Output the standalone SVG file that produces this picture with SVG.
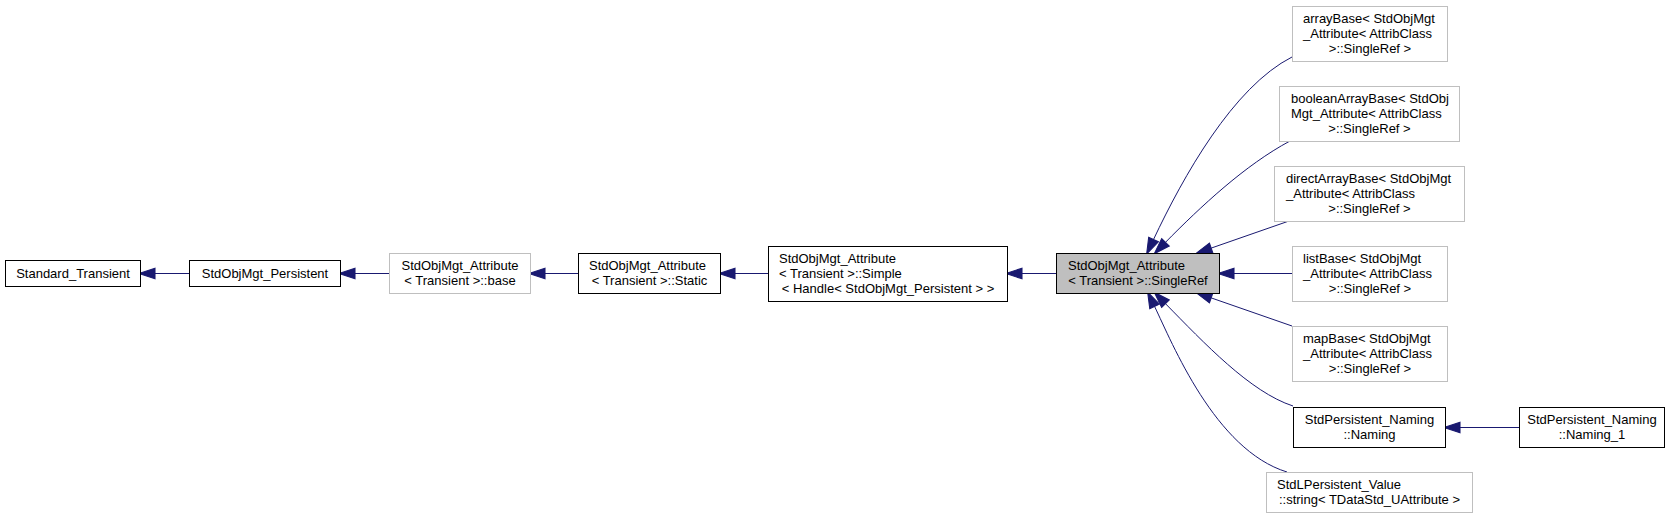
<svg xmlns="http://www.w3.org/2000/svg" width="1677" height="517" viewBox="0 0 1677 517">
<style>
.n rect{fill:#ffffff;stroke:#000000;stroke-width:1}
.g rect{fill:#ffffff;stroke:#bfbfbf;stroke-width:1}
.cur rect{fill:#bfbfbf;stroke:#000000;stroke-width:1}
text{font-family:"Liberation Sans",Arial,Helvetica,sans-serif;font-size:13px;fill:#000000}
.m{text-anchor:middle}
.s{text-anchor:start}
#edges path{fill:none;stroke:#191970;stroke-width:1;marker-end:url(#arr)}
</style>
<defs>
<marker id="arr" markerUnits="userSpaceOnUse" markerWidth="16" markerHeight="11" refX="0" refY="5" orient="auto" viewBox="0 0 15 10" overflow="visible">
<path d="M0,0 L15,5 L0,10 z" fill="#191970" stroke="#191970" stroke-width="1"/>
</marker>
</defs>
<rect width="1677" height="517" fill="#ffffff"/>
<g id="edges">
<path d="M189,273.5 L155,273.5"/>
<path d="M389,273.5 L355,273.5"/>
<path d="M578,273.5 L545,273.5"/>
<path d="M768,273.5 L735,273.5"/>
<path d="M1056,273.5 L1022,273.5"/>
<path d="M1292,273.5 L1234,273.5"/>
<path d="M1519,427.5 L1460,427.5"/>
<path d="M1292,57 C1233,87 1183,177 1153.5,239.5"/>
<path d="M1290,141 C1245,165 1200.5,206.8 1165.5,242.3"/>
<path d="M1289,221 L1211.2,248.1"/>
<path d="M1292,326 L1211.2,297.9"/>
<path d="M1293,406 C1250,392 1204,342.8 1165.5,303.7"/>
<path d="M1287,472 C1215,450 1172,342.5 1154.6,306.5"/>
</g>
<g id="node_standard_transient" class="n">
<rect x="5.5" y="260.5" width="135" height="26"/>
<text class="m" x="73" y="278">Standard_Transient</text>
</g>
<g id="node_stdobjmgt_persistent" class="n">
<rect x="189.5" y="260.5" width="151" height="26"/>
<text class="m" x="265" y="278">StdObjMgt_Persistent</text>
</g>
<g id="node_attr_base" class="g">
<rect x="389.5" y="253.5" width="141" height="40"/>
<text class="m" x="460" y="270">StdObjMgt_Attribute</text>
<text class="m" x="460" y="285">&lt; Transient &gt;::base</text>
</g>
<g id="node_attr_static" class="n">
<rect x="578.5" y="253.5" width="142" height="40"/>
<text class="s" x="589" y="270">StdObjMgt_Attribute</text>
<text class="m" x="649.5" y="285">&lt; Transient &gt;::Static</text>
</g>
<g id="node_attr_simple" class="n">
<rect x="768.5" y="246.5" width="239" height="55"/>
<text class="s" x="779" y="263">StdObjMgt_Attribute</text>
<text class="s" x="779" y="278">&lt; Transient &gt;::Simple</text>
<text class="m" x="888" y="293">&lt; Handle&lt; StdObjMgt_Persistent &gt; &gt;</text>
</g>
<g id="node_attr_singleref" class="cur">
<rect x="1056.5" y="253.5" width="163" height="40"/>
<text class="s" x="1068" y="270">StdObjMgt_Attribute</text>
<text class="m" x="1138" y="285">&lt; Transient &gt;::SingleRef</text>
</g>
<g id="node_arraybase" class="g">
<rect x="1292.5" y="6.5" width="155" height="55"/>
<text class="s" x="1303" y="23">arrayBase&lt; StdObjMgt</text>
<text class="s" x="1303" y="38">_Attribute&lt; AttribClass</text>
<text class="m" x="1370" y="53">&gt;::SingleRef &gt;</text>
</g>
<g id="node_booleanarraybase" class="g">
<rect x="1279.5" y="86.5" width="180" height="55"/>
<text class="s" x="1291" y="103">booleanArrayBase&lt; StdObj</text>
<text class="s" x="1291" y="118">Mgt_Attribute&lt; AttribClass</text>
<text class="m" x="1369.5" y="133">&gt;::SingleRef &gt;</text>
</g>
<g id="node_directarraybase" class="g">
<rect x="1274.5" y="166.5" width="190" height="55"/>
<text class="s" x="1286" y="183">directArrayBase&lt; StdObjMgt</text>
<text class="s" x="1286" y="198">_Attribute&lt; AttribClass</text>
<text class="m" x="1369.5" y="213">&gt;::SingleRef &gt;</text>
</g>
<g id="node_listbase" class="g">
<rect x="1292.5" y="246.5" width="155" height="55"/>
<text class="s" x="1303" y="263">listBase&lt; StdObjMgt</text>
<text class="s" x="1303" y="278">_Attribute&lt; AttribClass</text>
<text class="m" x="1370" y="293">&gt;::SingleRef &gt;</text>
</g>
<g id="node_mapbase" class="g">
<rect x="1292.5" y="326.5" width="155" height="55"/>
<text class="s" x="1303" y="343">mapBase&lt; StdObjMgt</text>
<text class="s" x="1303" y="358">_Attribute&lt; AttribClass</text>
<text class="m" x="1370" y="373">&gt;::SingleRef &gt;</text>
</g>
<g id="node_naming" class="n">
<rect x="1293.5" y="407.5" width="152" height="40"/>
<text class="m" x="1369.5" y="424">StdPersistent_Naming</text>
<text class="m" x="1369.5" y="439">::Naming</text>
</g>
<g id="node_naming_1" class="n">
<rect x="1519.5" y="407.5" width="145" height="40"/>
<text class="m" x="1592" y="424">StdPersistent_Naming</text>
<text class="m" x="1592" y="439">::Naming_1</text>
</g>
<g id="node_stdlpersistent_value" class="g">
<rect x="1266.5" y="472.5" width="206" height="40"/>
<text class="s" x="1277" y="489">StdLPersistent_Value</text>
<text class="m" x="1369.5" y="504">::string&lt; TDataStd_UAttribute &gt;</text>
</g>
</svg>
